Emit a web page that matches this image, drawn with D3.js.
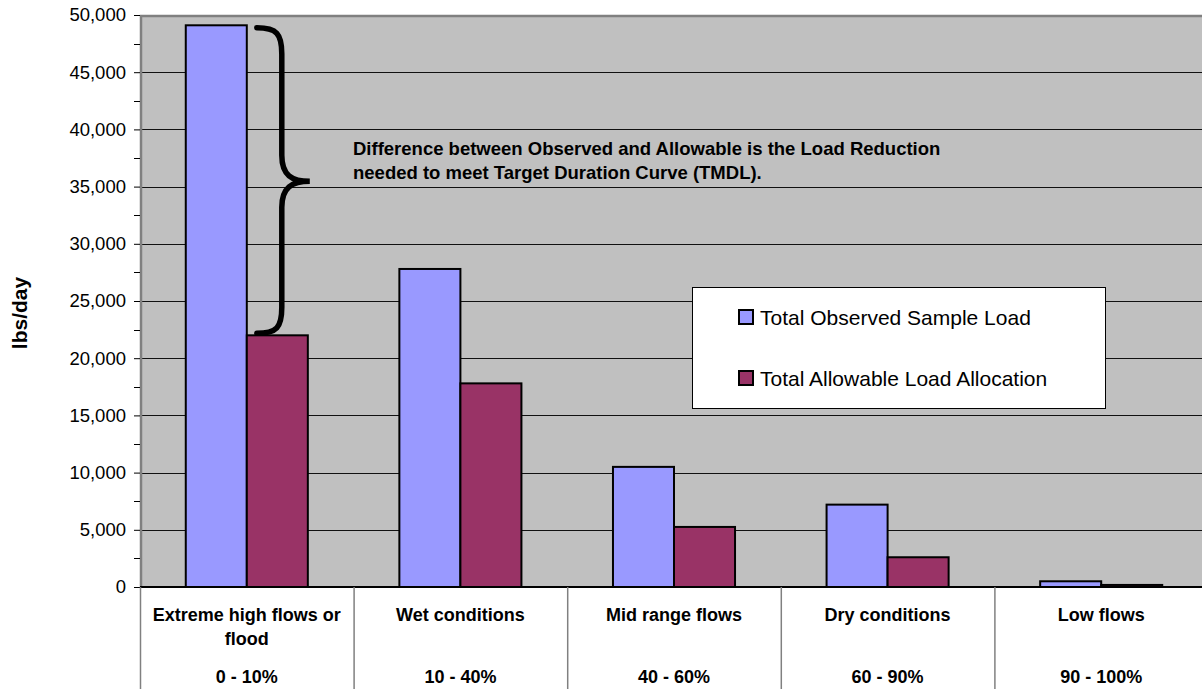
<!DOCTYPE html>
<html>
<head>
<meta charset="utf-8">
<script src="https://cdn.jsdelivr.net/npm/d3@7"></script>
<style>
  body { margin: 0; background: #fff; }
  svg { display: block; font-family: Arial, "Liberation Sans", sans-serif; }
</style>
</head>
<body>
<svg id="chart" width="1202" height="689"></svg>
<script>
// Flow-duration categories and their exceedance ranges
const categories = ["Extreme high flows or flood", "Wet conditions", "Mid range flows", "Dry conditions", "Low flows"];
const durationRanges = ["0 - 10%", "10 - 40%", "40 - 60%", "60 - 90%", "90 - 100%"];

// Loads in lbs/day
const seriesNames = ["Total Observed Sample Load", "Total Allowable Load Allocation"];
const observedLoad = [49100, 27800, 10500, 7200, 500];
const allowableLoad = [22000, 17800, 5250, 2600, 180];

// Axis ticks
const majorTicks = [0, 5000, 10000, 15000, 20000, 25000, 30000, 35000, 40000, 45000, 50000];
const minorTicks = [2500, 7500, 12500, 17500, 22500, 27500, 32500, 37500, 42500, 47500];

const annotationLines = [
  "Difference between Observed and Allowable is the Load Reduction",
  "needed to meet Target Duration Curve (TMDL)."
];

const colors = ["#9999FF", "#993366"];

const svg = d3.select("#chart");
const W = 1202, H = 689;
const plot = { left: 140, right: 1208, top: 15, bottom: 587 };

const x = d3.scaleBand().domain(d3.range(categories.length))
  .range([plot.left, plot.right]).paddingInner(0).paddingOuter(0);
// Excel-style gap width of 150%: two bars plus 1.5 bar widths of gap per category
const barW = x.bandwidth() / 3.5;
const xs = d3.scaleBand().domain([0, 1])
  .range([barW * 0.75, barW * 0.75 + barW * 2]).padding(0);

const y = d3.scaleLinear().domain([0, 50000]).range([plot.bottom, plot.top]);

// plot background
svg.append("rect")
  .attr("x", plot.left).attr("y", plot.top)
  .attr("width", plot.right - plot.left).attr("height", plot.bottom - plot.top)
  .attr("fill", "#C0C0C0");

// gridlines
svg.append("g").selectAll("line").data(majorTicks.filter(d => d > 0 && d < 50000)).join("line")
  .attr("x1", plot.left).attr("x2", plot.right)
  .attr("y1", d => Math.round(y(d)) + 0.5).attr("y2", d => Math.round(y(d)) + 0.5)
  .attr("stroke", "#111").attr("stroke-width", 1);

// plot border (top and left)
svg.append("path")
  .attr("d", `M${plot.left + 1},${plot.bottom} V${plot.top + 1} H${plot.right}`)
  .attr("fill", "none").attr("stroke", "#808080").attr("stroke-width", 2.5);

// y axis
const yAxis = d3.axisLeft(y).tickValues(majorTicks).tickFormat(d3.format(",")).tickSize(6).tickPadding(8);
const gy = svg.append("g").attr("transform", `translate(${plot.left},0)`).call(yAxis);
gy.select(".domain").remove();
gy.selectAll(".tick line").attr("stroke", "#000");
gy.selectAll(".tick text").attr("font-size", 18.5).attr("fill", "#000")
  .attr("font-family", 'Arial, "Liberation Sans", sans-serif');
svg.append("g").selectAll("line").data(minorTicks).join("line")
  .attr("x1", plot.left - 6).attr("x2", plot.left)
  .attr("y1", d => Math.round(y(d)) + 0.5).attr("y2", d => Math.round(y(d)) + 0.5)
  .attr("stroke", "#000");

// y axis title
svg.append("text")
  .attr("transform", `translate(27,${(plot.top + plot.bottom) / 2 + 12}) rotate(-90)`)
  .attr("text-anchor", "middle")
  .attr("font-size", 21).attr("font-weight", "bold")
  .text("lbs/day");

// bars
const seriesData = [observedLoad, allowableLoad];
const groups = svg.append("g").selectAll("g").data(categories).join("g")
  .attr("transform", (d, i) => `translate(${x(i)},0)`);
groups.selectAll("rect").data((d, i) => seriesData.map((s, k) => ({ k, v: s[i] }))).join("rect")
  .attr("x", d => xs(d.k))
  .attr("y", d => y(d.v))
  .attr("width", xs.bandwidth())
  .attr("height", d => y(0) - y(d.v))
  .attr("fill", d => colors[d.k])
  .attr("stroke", "#000").attr("stroke-width", 2);

// category axis line
svg.append("line")
  .attr("x1", plot.left).attr("x2", plot.right)
  .attr("y1", plot.bottom).attr("y2", plot.bottom)
  .attr("stroke", "#000").attr("stroke-width", 2);

// category table dividers
svg.append("g").selectAll("line").data(d3.range(categories.length + 1)).join("line")
  .attr("x1", i => (i < categories.length ? x(i) : plot.right) + 0.5)
  .attr("x2", i => (i < categories.length ? x(i) : plot.right) + 0.5)
  .attr("y1", plot.bottom).attr("y2", H)
  .attr("stroke", "#808080").attr("stroke-width", 1.5);

// category labels, wrapped to the column width
const catG = svg.append("g").attr("font-size", 18).attr("font-weight", "bold").attr("text-anchor", "middle");
categories.forEach((name, i) => {
  const cx = x(i) + x.bandwidth() / 2;
  const t = catG.append("text").attr("x", cx).attr("y", 621);
  const words = name.split(" ");
  let line = [];
  let tspan = t.append("tspan").attr("x", cx).attr("dy", 0);
  let lineNo = 0;
  words.forEach(w => {
    line.push(w);
    tspan.text(line.join(" "));
    if (tspan.node().getComputedTextLength() > x.bandwidth() - 16 && line.length > 1) {
      line.pop();
      tspan.text(line.join(" "));
      line = [w];
      lineNo++;
      tspan = t.append("tspan").attr("x", cx).attr("dy", 24).text(w);
    }
  });
  catG.append("text").attr("x", cx).attr("y", 683).text(durationRanges[i]);
});

// brace spanning the gap between observed and allowable loads in the first category
const bx0 = x(0) + xs(1) + 10;
const bx1 = bx0 + 25;
const btip = bx0 + 53;
const yTop = y(observedLoad[0]) + 2.5;
const yBot = y(allowableLoad[0]) - 2;
const yMid = (y(observedLoad[0]) + y(allowableLoad[0])) / 2 + 1;
svg.append("path")
  .attr("d", `M${bx0},${yTop} C${bx0 + 20},${yTop} ${bx1},${yTop + 6} ${bx1},${yTop + 26}
              L${bx1},${yMid - 26} C${bx1},${yMid - 6} ${bx1 + 10},${yMid} ${btip},${yMid}
              C${bx1 + 10},${yMid} ${bx1},${yMid + 6} ${bx1},${yMid + 26}
              L${bx1},${yBot - 26} C${bx1},${yBot - 6} ${bx0 + 20},${yBot} ${bx0},${yBot}`)
  .attr("fill", "none").attr("stroke", "#000").attr("stroke-width", 5.5)
  .attr("stroke-linecap", "round");

// annotation
svg.append("g").attr("font-size", 18.5).attr("font-weight", "bold")
  .selectAll("text").data(annotationLines).join("text")
  .attr("x", 353).attr("y", (d, i) => 155 + i * 24)
  .text(d => d);

// legend
const lg = svg.append("g").attr("transform", "translate(692,287)");
lg.append("rect").attr("x", 0.5).attr("y", 0.5).attr("width", 413).attr("height", 121)
  .attr("fill", "#fff").attr("stroke", "#000").attr("stroke-width", 1);
const items = lg.selectAll("g").data(seriesNames).join("g")
  .attr("transform", (d, i) => `translate(47,${30 + i * 61})`);
items.append("rect").attr("x", 0).attr("y", -7).attr("width", 14).attr("height", 14)
  .attr("fill", (d, i) => colors[i]).attr("stroke", "#000").attr("stroke-width", 2);
items.append("text").attr("x", 21).attr("y", 8).attr("font-size", 21).text(d => d);
</script>
</body>
</html>
